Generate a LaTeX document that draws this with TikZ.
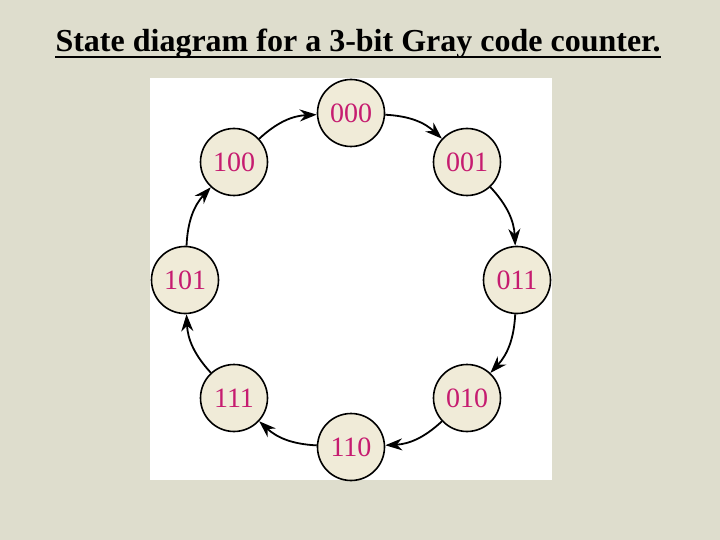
\documentclass[tikz,border=0pt]{standalone}
\usepackage{fontspec}
\setmainfont{Liberation Serif}
\usetikzlibrary{arrows.meta}
\definecolor{bgc}{RGB}{222,221,205}
\definecolor{statefill}{RGB}{240,235,216}
\definecolor{statetext}{RGB}{198,28,112}
\tikzset{
  statenode/.style={circle, draw=black, line width=1.6pt, fill=statefill, minimum size=67pt, inner sep=0pt,
    text=statetext, font=\fontsize{28}{28}\selectfont},
  trans/.style={line width=1.8pt, -{Stealth[length=17pt,width=12pt]}, bend left=20},
}
\begin{document}
\begin{tikzpicture}[x=1pt,y=-1pt]
\fill[bgc] (0,0) rectangle (720,540);
\useasboundingbox (0,0) rectangle (720,540);
\fill[white] (150,78) rectangle (552,480);
\node[inner sep=0pt, font=\fontsize{32}{32}\selectfont\bfseries, anchor=base] (title) at (358,52) {State diagram for a 3-bit Gray code counter.};
\draw[line width=2.2pt] ([yshift=-5pt]title.base west) -- ([yshift=-5pt]title.base east);
\node[statenode] (s000) at (351,113) {000};
\node[statenode] (s001) at (467,162) {001};
\node[statenode] (s011) at (517,280) {011};
\node[statenode] (s010) at (467,398) {010};
\node[statenode] (s110) at (351,447) {110};
\node[statenode] (s111) at (234,398) {111};
\node[statenode] (s101) at (185,280) {101};
\node[statenode] (s100) at (234,162) {100};
\draw[trans] (s000) to (s001);
\draw[trans] (s001) to (s011);
\draw[trans] (s011) to (s010);
\draw[trans] (s010) to (s110);
\draw[trans] (s110) to (s111);
\draw[trans] (s111) to (s101);
\draw[trans] (s101) to (s100);
\draw[trans] (s100) to (s000);
\end{tikzpicture}
\end{document}
